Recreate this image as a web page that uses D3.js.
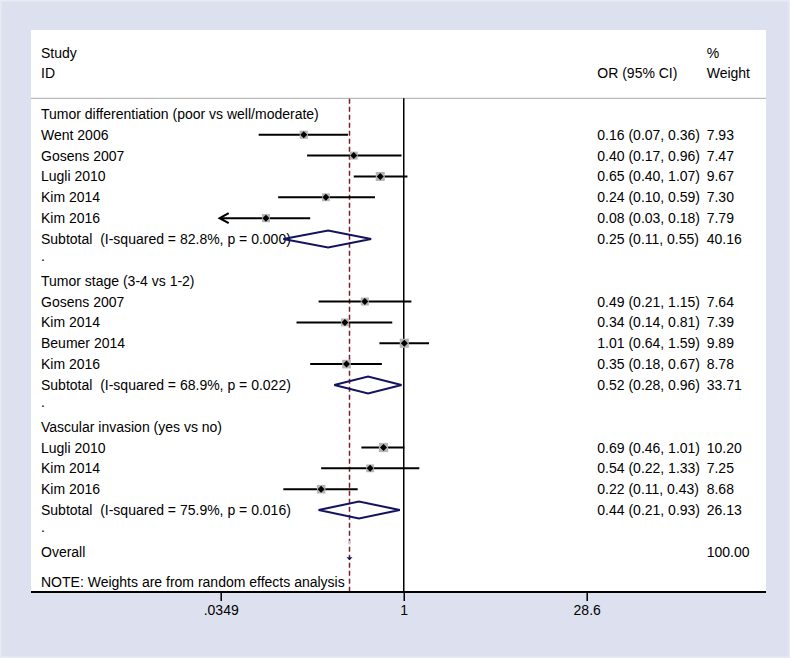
<!DOCTYPE html>
<html><head><meta charset="utf-8">
<script src="https://cdn.jsdelivr.net/npm/d3@7"></script>
<style>
html,body{margin:0;padding:0;background:#dde0ee;}
svg text{font-family:"Liberation Sans",Arial,sans-serif;font-size:14px;fill:#000;white-space:pre;}
</style></head>
<body>
<svg id="c" width="790" height="658"></svg>
<script>
// ---- data ----
const groupTitles = ["Tumor differentiation (poor vs well/moderate)", "Tumor stage (3-4 vs 1-2)", "Vascular invasion (yes vs no)"];
const studyNames = [
  ["Went 2006", "Gosens 2007", "Lugli 2010", "Kim 2014", "Kim 2016"],
  ["Gosens 2007", "Kim 2014", "Beumer 2014", "Kim 2016"],
  ["Lugli 2010", "Kim 2014", "Kim 2016"]
];
const studyOR = [[0.16, 0.40, 0.65, 0.24, 0.08], [0.49, 0.34, 1.01, 0.35], [0.69, 0.54, 0.22]];
const studyLo = [[0.07, 0.17, 0.40, 0.10, 0.03], [0.21, 0.14, 0.64, 0.18], [0.46, 0.22, 0.11]];
const studyHi = [[0.36, 0.96, 1.07, 0.59, 0.18], [1.15, 0.81, 1.59, 0.67], [1.01, 1.33, 0.43]];
const studyW  = [["7.93", "7.47", "9.67", "7.30", "7.79"], ["7.64", "7.39", "9.89", "8.78"], ["10.20", "7.25", "8.68"]];
const subLabels = ["Subtotal  (I-squared = 82.8%, p = 0.000)", "Subtotal  (I-squared = 68.9%, p = 0.022)", "Subtotal  (I-squared = 75.9%, p = 0.016)"];
const subOR = [0.25, 0.52, 0.44];
const subLo = [0.11, 0.28, 0.21];
const subHi = [0.55, 0.96, 0.93];
const subW  = ["40.16", "33.71", "26.13"];
const overallOR = 0.37;
const overallW = "100.00";
const tickValues = [0.0349, 1, 28.6];
const tickLabels = [".0349", "1", "28.6"];
const noteText = "NOTE: Weights are from random effects analysis";

// ---- layout ----
const svg = d3.select("#c");
const P = {x0: 31, x1: 766, y0: 30, y1: 592};
const x = d3.scaleLog().domain([tickValues[0], tickValues[2]]).range([220.7, 586.7]);
const rowY = i => 113.9 + 20.85 * i;
const fmt = v => v.toFixed(2);
const colOR = 597.3, colW = 706.7, colL = 41;

svg.append("rect").attr("x", 0.5).attr("y", 0.5).attr("width", 789).attr("height", 657)
  .attr("fill", "#dde0ee").attr("stroke", "#e9ebf4").attr("stroke-width", 2);
svg.append("rect").attr("x", P.x0).attr("y", P.y0).attr("width", P.x1 - P.x0).attr("height", P.y1 - P.y0).attr("fill", "#fff");

// headers
const tx = (xx, yy, s) => svg.append("text").attr("x", xx).attr("y", yy).attr("dy", "0.36em").text(s);
tx(colL, 52.5, "Study"); tx(colL, 72.7, "ID");
tx(colOR, 72.7, "OR (95% CI)");
tx(colW, 52.5, "%"); tx(colW, 72.7, "Weight");
svg.append("line").attr("x1", P.x0).attr("x2", P.x1).attr("y1", 98.3).attr("y2", 98.3)
  .attr("stroke", "#a8a8a8").attr("stroke-width", 1);

// reference lines
svg.append("line").attr("x1", x(1)).attr("x2", x(1)).attr("y1", 98.3).attr("y2", P.y1)
  .attr("stroke", "#000").attr("stroke-width", 1.5);
svg.append("line").attr("x1", x(overallOR)).attr("x2", x(overallOR)).attr("y1", 98.8).attr("y2", P.y1)
  .attr("stroke", "#7b1f2a").attr("stroke-width", 1.5).attr("stroke-dasharray", "5,3");

// rows
let r = 0;
groupTitles.forEach((g, gi) => {
  tx(colL, rowY(r), g); r++;
  studyNames[gi].forEach((nm, si) => {
    const y = rowY(r);
    const or = studyOR[gi][si], lo = studyLo[gi][si], hi = studyHi[gi][si];
    tx(colL, y, nm);
    tx(colOR, y, `${fmt(or)} (${fmt(lo)}, ${fmt(hi)})`);
    tx(colW, y, studyW[gi][si]);
    const lx = lo < tickValues[0] ? x(tickValues[0]) : x(lo);
    svg.append("line").attr("x1", lx).attr("x2", x(hi)).attr("y1", y).attr("y2", y)
      .attr("stroke", "#000").attr("stroke-width", 2);
    if (lo < tickValues[0]) {
      const ax = x(tickValues[0]) - 1;
      svg.append("path").attr("d", `M${ax + 9},${y - 5}L${ax},${y}L${ax + 9},${y + 5}`)
        .attr("fill", "none").attr("stroke", "#000").attr("stroke-width", 2.2);
    }
    const s = 2.9 * Math.sqrt(+studyW[gi][si]);
    svg.append("rect").attr("x", x(or) - s / 2).attr("y", y - s / 2).attr("width", s).attr("height", s)
      .attr("fill", "#b4b4b4");
    svg.append("path").attr("d", `M${x(or)},${y - 3.5}L${x(or) + 3.5},${y}L${x(or)},${y + 3.5}L${x(or) - 3.5},${y}Z`)
      .attr("fill", "#000");
    r++;
  });
  const y = rowY(r);
  tx(colL, y, subLabels[gi]);
  tx(colOR, y, `${fmt(subOR[gi])} (${fmt(subLo[gi])}, ${fmt(subHi[gi])})`);
  tx(colW, y, subW[gi]);
  svg.append("path")
    .attr("d", `M${x(subLo[gi])},${y}L${x(subOR[gi])},${y - 8.5}L${x(subHi[gi])},${y}L${x(subOR[gi])},${y + 8.5}Z`)
    .attr("fill", "none").attr("stroke", "#14145e").attr("stroke-width", 2);
  r++;
  tx(colL, rowY(r) - 4, "."); r++;
});
// overall
const oy = rowY(r);
tx(colL, oy, "Overall");
tx(colW, oy, overallW);
svg.append("path").attr("d", `M${x(overallOR) - 3},${oy + 5.5}L${x(overallOR) + 3},${oy + 5.5}L${x(overallOR)},${oy + 8.5}Z`)
  .attr("fill", "#14145e");
svg.append("line").attr("x1", x(overallOR)).attr("x2", x(overallOR)).attr("y1", oy - 11).attr("y2", oy - 7)
  .attr("stroke", "#c8c8dc").attr("stroke-width", 1.5);
tx(colL, 581.7, noteText);

// axis
const axis = d3.axisBottom(x).tickValues(tickValues).tickFormat((d, i) => tickLabels[i]).tickSize(9).tickPadding(4);
const ag = svg.append("g").attr("transform", `translate(0,${P.y1})`).call(axis);
ag.select(".domain").remove();
ag.selectAll(".tick line").attr("stroke", "#000").attr("stroke-width", 1.5);
ag.selectAll(".tick text").style("font-size", "14px").attr("fill", "#000").style("font-family", '"Liberation Sans",Arial,sans-serif');
svg.append("line").attr("x1", P.x0).attr("x2", P.x1).attr("y1", P.y1).attr("y2", P.y1)
  .attr("stroke", "#000").attr("stroke-width", 1.8);
</script>
</body></html>
